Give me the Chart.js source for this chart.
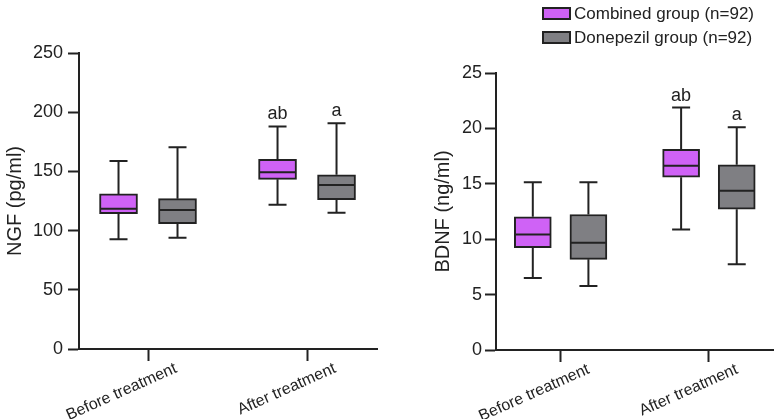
<!DOCTYPE html>
<html>
<head>
<meta charset="utf-8">
<script src="https://cdn.jsdelivr.net/npm/chart.js@4/dist/chart.umd.min.js"></script>
<style>
  html, body { margin: 0; padding: 0; background: #fff; overflow: hidden; }
  #wrap { position: relative; width: 779px; height: 419px; }
  .panel { position: absolute; top: 0; height: 419px; }
  #p1 { left: 0; width: 390px; }
  #p2 { left: 390px; width: 389px; }
</style>
</head>
<body>
<div id="wrap">
  <div class="panel" id="p1"><canvas id="chartNGF"></canvas></div>
  <div class="panel" id="p2"><canvas id="chartBDNF"></canvas></div>
</div>
<script>
// ─────────────────────────────────────────
// DATOS  (min, Q1, mediana, Q3, max)
// ─────────────────────────────────────────

const categories = ["Before treatment", "After treatment"];
const groups     = ["Combined group (n=92)", "Donepezil group (n=92)"];

const ngfCombined   = [[92.6, 114.3, 118.5, 131.0, 158.8], [121.9, 143.3, 149.2, 160.2, 188.0]];
const ngfDonepezil  = [[94.0, 105.9, 117.4, 127.0, 170.3], [115.1, 126.1, 138.5, 147.2, 190.6]];
const bdnfCombined  = [[6.49, 9.23, 10.43, 12.02, 15.15], [10.88, 15.6, 16.62, 18.12, 21.88]];
const bdnfDonepezil = [[5.77, 8.18, 9.68, 12.23, 15.15], [7.75, 12.71, 14.37, 16.71, 20.1]];

const ngfLetters  = [["", "ab"], ["", "a"]];
const bdnfLetters = [["", "ab"], ["", "a"]];

const PURPLE = "#cf62f6";
const GREY   = "#7f7f83";
const INK    = "#222222";
const FONT   = "'Liberation Sans', Arial, sans-serif";

Chart.defaults.font.family = FONT;
Chart.defaults.color = INK;

// ─────────────────────────────────────────
// PLUGINS: bigotes, mediana, letras, leyenda
// ─────────────────────────────────────────

const boxPlotPlugin = {
  id: "boxPlot",
  afterDatasetsDraw(chart) {
    const { ctx, scales: { x, y } } = chart;
    ctx.save();
    ctx.strokeStyle = INK;
    ctx.lineWidth = 2;
    chart.data.datasets.forEach((ds, di) => {
      const meta = chart.getDatasetMeta(di);
      ds.stats.forEach((s, i) => {
        const bar = meta.data[i];
        const cx  = x.getPixelForValue(ds.data[i].x);
        const half = bar.width / 2;
        const [mn, q1, md, q3, mx] = s.map(v => y.getPixelForValue(v));
        const cap = 9;
        ctx.beginPath();
        ctx.moveTo(cx, q3); ctx.lineTo(cx, mx);
        ctx.moveTo(cx - cap, mx); ctx.lineTo(cx + cap, mx);
        ctx.moveTo(cx, q1); ctx.lineTo(cx, mn);
        ctx.moveTo(cx - cap, mn); ctx.lineTo(cx + cap, mn);
        ctx.moveTo(cx - half + 1, md); ctx.lineTo(cx + half - 1, md);
        ctx.stroke();

        const letra = ds.letters[i];
        if (letra) {
          ctx.fillStyle = INK;
          ctx.font = "18px " + FONT;
          ctx.textAlign = "center";
          ctx.textBaseline = "alphabetic";
          ctx.fillText(letra, cx, mx - 7);
        }
      });
    });
    ctx.restore();
  }
};

const legendPlugin = {
  id: "groupLegend",
  afterDraw(chart, args, opts) {
    if (!opts.display) return;
    const ctx = chart.ctx;
    ctx.save();
    chart.data.datasets.forEach((ds, i) => {
      const bx = opts.x, by = opts.y + i * 24;
      ctx.fillStyle = ds.backgroundColor;
      ctx.fillRect(bx, by, 29, 13);
      ctx.strokeStyle = INK;
      ctx.lineWidth = 2;
      ctx.strokeRect(bx + 1, by + 1, 27, 11);
      ctx.fillStyle = INK;
      ctx.font = "17px " + FONT;
      ctx.textAlign = "left";
      ctx.textBaseline = "middle";
      ctx.fillText(ds.label, bx + 32, by + 7.5);
    });
    ctx.restore();
  }
};

// ─────────────────────────────────────────
// CONSTRUCTOR DE PANEL
// ─────────────────────────────────────────

function crearPanel(canvasId, cfg) {
  const armar = (label, stats, letters, color, off) => ({
    label,
    stats,
    letters,
    data: stats.map((s, i) => ({ x: i + off, y: [s[1], s[3]] })),
    backgroundColor: color,
    borderColor: INK,
    borderWidth: 2,
    borderSkipped: false,
    barThickness: cfg.barW,
    grouped: false
  });

  return new Chart(document.getElementById(canvasId), {
    type: "bar",
    data: {
      datasets: [
        armar(groups[0], cfg.combined, cfg.letters[0], PURPLE, -cfg.off),
        armar(groups[1], cfg.donepezil, cfg.letters[1], GREY, cfg.off)
      ]
    },
    options: {
      responsive: true,
      maintainAspectRatio: false,
      animation: false,
      layout: { padding: cfg.padding },
      plugins: {
        legend: { display: false },
        tooltip: { enabled: false },
        groupLegend: cfg.legend
      },
      scales: {
        x: {
          type: "linear",
          offset: false,
          min: cfg.xMin,
          max: cfg.xMax,
          afterBuildTicks: s => { s.ticks = categories.map((c, i) => ({ value: i })); },
          afterFit: s => { s.height = cfg.xHeight; },
          ticks: {
            callback: (v, i) => categories[i],
            minRotation: 24,
            maxRotation: 24,
            labelOffset: 28,
            padding: -2,
            color: INK,
            font: { size: 16 }
          },
          grid: { offset: false, drawOnChartArea: false, tickLength: 12, tickWidth: 2, tickColor: INK },
          border: { color: INK, width: 2 }
        },
        y: {
          min: 0,
          max: cfg.yMax,
          afterFit: s => { s.width = cfg.yWidth; },
          ticks: { stepSize: cfg.yStep, padding: cfg.tickPad, color: INK, font: { size: 18 } },
          grid: { drawOnChartArea: false, tickLength: 11, tickWidth: 2, tickColor: INK },
          border: { color: INK, width: 2 },
          title: { display: true, text: cfg.yTitle, color: INK, font: { size: 20 }, padding: 0 }
        }
      }
    },
    plugins: [boxPlotPlugin, legendPlugin]
  });
}

// ─────────────────────────────────────────
// INIT
// ─────────────────────────────────────────

crearPanel("chartNGF", {
  combined: ngfCombined, donepezil: ngfDonepezil, letters: ngfLetters,
  yMax: 250, yStep: 50, yTitle: "NGF (pg/ml)",
  xMin: -0.434, xMax: 1.44, off: 0.1855, barW: 38,
  padding: { left: 3, top: 53, right: 13, bottom: 0 },
  yWidth: 76, xHeight: 70, tickPad: 5,
  legend: { display: false }
});

crearPanel("chartBDNF", {
  combined: bdnfCombined, donepezil: bdnfDonepezil, letters: bdnfLetters,
  yMax: 25, yStep: 5, yTitle: "BDNF (ng/ml)",
  xMin: -0.4356, xMax: 1.432, off: 0.1875, barW: 37,
  padding: { left: 41, top: 73, right: 6, bottom: 0 },
  yWidth: 65, xHeight: 69, tickPad: 3,
  legend: { display: true, x: 152, y: 7 }
});
</script>
</body>
</html>
